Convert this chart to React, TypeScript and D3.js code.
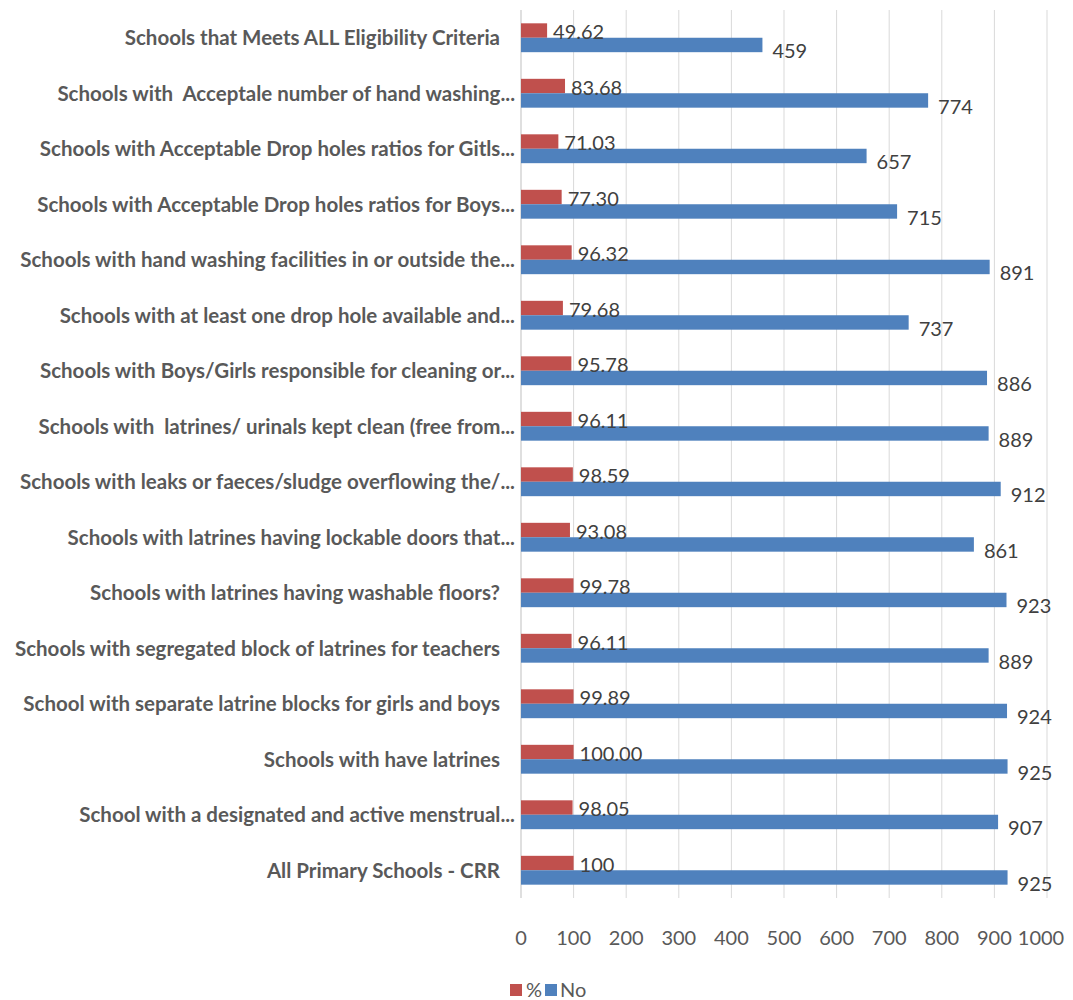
import React from "react";
import * as d3 from "d3";

const categories: string[] = [
  "Schools that Meets ALL Eligibility Criteria ",
  "Schools with  Acceptale number of hand washing...",
  "Schools with Acceptable Drop holes ratios for Gitls...",
  "Schools with Acceptable Drop holes ratios for Boys...",
  "Schools with hand washing facilities in or outside the...",
  "Schools with at least one drop hole available and...",
  "Schools with Boys/Girls responsible for cleaning or...",
  "Schools with  latrines/ urinals kept clean (free from...",
  "Schools with leaks or faeces/sludge overflowing the/...",
  "Schools with latrines having lockable doors that...",
  "Schools with latrines having washable floors? ",
  "Schools with segregated block of latrines for teachers ",
  "School with separate latrine blocks for girls and boys ",
  "Schools with have latrines ",
  "School with a designated and active menstrual...",
  "All Primary Schools - CRR ",
];

const pctValues: number[] = [49.62, 83.68, 71.03, 77.3, 96.32, 79.68, 95.78, 96.11, 98.59, 93.08, 99.78, 96.11, 99.89, 100.0, 98.05, 100];
const pctLabels: string[] = ["49.62", "83.68", "71.03", "77.30", "96.32", "79.68", "95.78", "96.11", "98.59", "93.08", "99.78", "96.11", "99.89", "100.00", "98.05", "100"];
const noValues: number[] = [459, 774, 657, 715, 891, 737, 886, 889, 912, 861, 923, 889, 924, 925, 907, 925];
const xTicks: number[] = [0, 100, 200, 300, 400, 500, 600, 700, 800, 900, 1000];
const seriesNames: string[] = ["%", "No"];

const RED = "#C0504D";
const BLUE = "#4F81BD";
const FONT = "Lato, 'Open Sans', sans-serif";

export default function App() {
  const W = 1073;
  const H = 1000;
  const left = 521;
  const right = 1047;
  const top = 10;
  const bottom = 898;

  const x = d3.scaleLinear().domain([0, 1000]).range([left, right]);
  const y = d3.scaleBand<number>().domain(d3.range(categories.length)).range([top, bottom]).paddingInner(0.48).paddingOuter(0.24);
  const sub = d3.scaleBand<number>().domain([0, 1]).range([0, y.bandwidth()]);

  return (
    <div style={{ position: "absolute", left: 0, top: 0 }}>
      <svg width={W} height={H} style={{ display: "block", background: "#fff" }}>
        {xTicks.map((t) => (
          <line key={"g" + t} x1={x(t)} x2={x(t)} y1={top} y2={bottom} stroke={t === 0 ? "#bfbfbf" : "#d9d9d9"} strokeWidth={1} />
        ))}
        {categories.map((c, i) => {
          const y0 = y(i) as number;
          const cy = y0 + y.bandwidth() / 2;
          return (
            <g key={i}>
              <text
                x={515}
                dx={c.endsWith(" ") ? -10 : 0}
                y={cy + 7.5}
                textAnchor="end"
                fontFamily={FONT}
                fontWeight={700}
                fontSize={20.5}
                fill="#595959"
                style={{ whiteSpace: "pre" }}
              >
                {c}
              </text>
              <rect x={x(0)} y={y0 + (sub(0) as number)} width={x(pctValues[i]) - x(0)} height={sub.bandwidth()} fill={RED} />
              <rect x={x(0)} y={y0 + (sub(1) as number)} width={x(noValues[i]) - x(0)} height={sub.bandwidth()} fill={BLUE} />
              <text x={x(pctValues[i]) + 6} y={y0 + (sub(0) as number) + sub.bandwidth() + 1.5} fontFamily={FONT} fontSize={20} fill="#404040">
                {pctLabels[i]}
              </text>
              <text x={x(noValues[i]) + 10} y={y0 + (sub(1) as number) + sub.bandwidth() + 6} fontFamily={FONT} fontSize={20} fill="#404040">
                {noValues[i]}
              </text>
            </g>
          );
        })}
        {xTicks.map((t) => (
          <text key={"t" + t} x={x(t)} dx={t === 1000 ? -6 : 0} y={945} textAnchor="middle" fontFamily={FONT} fontSize={20} fill="#595959">
            {t}
          </text>
        ))}
        <g>
          <rect x={510} y={984} width={12} height={12} fill={RED} />
          <text x={526} y={997} fontFamily={FONT} fontSize={20} fill="#595959">{seriesNames[0]}</text>
          <rect x={545} y={984} width={12} height={12} fill={BLUE} />
          <text x={560} y={997} fontFamily={FONT} fontSize={20} fill="#595959">{seriesNames[1]}</text>
        </g>
      </svg>
    </div>
  );
}
